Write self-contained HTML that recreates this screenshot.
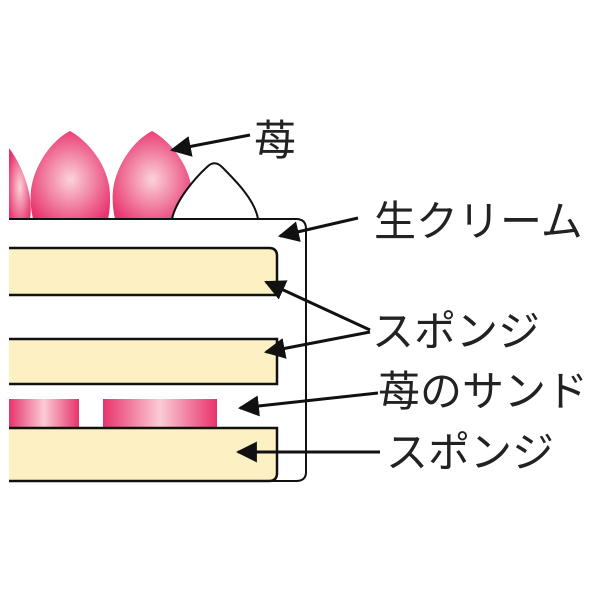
<!DOCTYPE html>
<html><head><meta charset="utf-8"><style>body{margin:0;background:#fff}svg{display:block}</style></head>
<body>
<svg width="600" height="600" viewBox="0 0 600 600" xmlns="http://www.w3.org/2000/svg">
<defs>
<radialGradient id="sb" cx="0.5" cy="0.55" r="0.6"><stop offset="0" stop-color="#fbd3da"/><stop offset="1" stop-color="#e8336d"/></radialGradient>
<linearGradient id="sl" x1="0" x2="1"><stop offset="0" stop-color="#e8336d"/><stop offset="0.5" stop-color="#fbcbd4"/><stop offset="1" stop-color="#e8336d"/></linearGradient>
<marker id="ah" markerWidth="10" markerHeight="10" refX="9" refY="5" orient="auto" markerUnits="userSpaceOnUse" viewBox="0 0 10 10"><path d="M0,0 L10,5 L0,10 z" fill="#111"/></marker>
<marker id="a" viewBox="0 0 10 10" refX="9" refY="5" markerWidth="7" markerHeight="7" orient="auto"><path d="M0,0 L10,5 L0,10 z" fill="#111"/></marker>
</defs>
<!-- strawberries -->
<path d="M9,148 C22,165 34,195 30,219 L9,219 Z" fill="url(#sb)"/>
<path d="M70,131 C90,142 112,170 110,200 C110,212 108,219 108,219 L33,219 C31,210 30,200 31,190 C34,165 52,140 70,131 Z" fill="url(#sb)"/>
<path d="M152,131 C172,142 194,170 192,200 C192,212 190,219 190,219 L115,219 C113,210 112,200 113,190 C116,165 134,140 152,131 Z" fill="url(#sb)"/>
<!-- whipped cream -->
<path d="M172,219 C176,200 195,178 207,167 C212,162 217,162 222,167 C235,180 255,200 258,219" fill="#fff" stroke="#111" stroke-width="2"/>
<!-- cream outline -->
<path d="M9,219 L296,219 Q306,219 306,229 L306,472 Q306,481 296,481 L9,481" fill="#fff" stroke="#111" stroke-width="2"/>
<!-- sponge 1 -->
<path d="M9,248 L269,248 Q277,248 277,256 L277,295 L9,295" fill="#fdf0c2" stroke="#111" stroke-width="2.5"/>
<!-- sponge 2 -->
<path d="M9,339 L277,339 L277,384 L9,384" fill="#fdf0c2" stroke="#111" stroke-width="2.5"/>
<!-- strawberry slices -->
<rect x="9" y="399" width="70" height="29" fill="url(#sl)"/>
<rect x="103" y="399" width="114" height="29" fill="url(#sl)"/>
<!-- sponge 3 -->
<path d="M9,428 L277,428 L277,473 Q277,481 269,481 L9,481" fill="#fdf0c2" stroke="#111" stroke-width="2.5"/>
<!-- arrows -->
<g stroke="#111" stroke-width="3" fill="none" marker-end="url(#a)">
<line x1="250" y1="135" x2="172" y2="150"/>
<line x1="358" y1="218" x2="280" y2="236"/>
<line x1="370" y1="330" x2="266" y2="282"/>
<line x1="370" y1="332" x2="266" y2="352"/>
<line x1="378" y1="393" x2="240" y2="408"/>
<line x1="380" y1="452" x2="238" y2="452"/>
</g>
<g font-family="'Liberation Sans','Noto Sans CJK JP',sans-serif" font-size="42" fill="#222">
<text x="254" y="155">苺</text>
<text x="374" y="236">生クリーム</text>
<text x="372" y="346">スポンジ</text>
<text x="378" y="406">苺のサンド</text>
<text x="386" y="467">スポンジ</text>
</g>
</svg>
</body></html>
